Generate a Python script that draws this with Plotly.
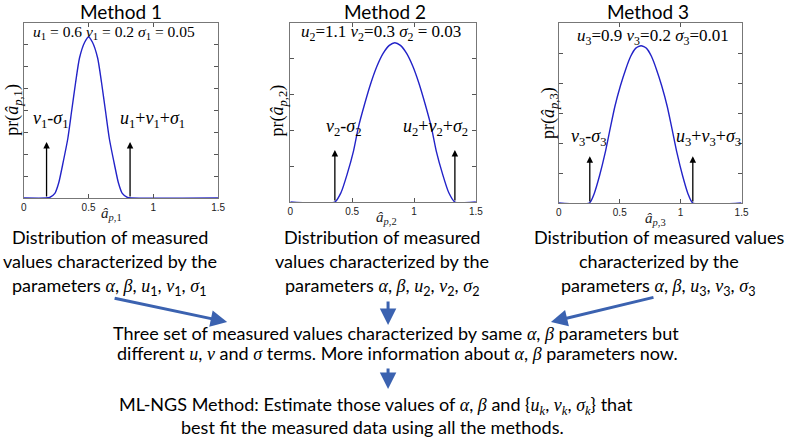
import plotly.graph_objects as go

W, H = 789, 438

# ---------------- data ----------------
methods = ["Method 1", "Method 2", "Method 3"]

x1 = [0, 0.17, 0.20, 0.24, 0.27, 0.30, 0.34, 0.37, 0.40, 0.43, 0.47, 0.50,
      0.53, 0.57, 0.60, 0.63, 0.66, 0.70, 0.73, 0.76, 0.80, 0.83, 1.5]
y1 = [0, 0, 0.003, 0.026, 0.087, 0.19, 0.34, 0.50, 0.66, 0.80, 0.89, 0.92,
      0.89, 0.80, 0.66, 0.50, 0.34, 0.19, 0.087, 0.026, 0.003, 0, 0]

x2 = [0, 0.36, 0.41, 0.46, 0.51, 0.55, 0.60, 0.65, 0.70, 0.75, 0.80, 0.845,
      0.89, 0.94, 0.99, 1.04, 1.09, 1.14, 1.18, 1.23, 1.28, 1.33, 1.5]
y2 = [0, 0, 0.053, 0.157, 0.283, 0.417, 0.546, 0.662, 0.758, 0.830, 0.875, 0.89,
      0.875, 0.830, 0.758, 0.662, 0.546, 0.417, 0.283, 0.157, 0.053, 0, 0]

x3 = [0, 0.25, 0.29, 0.335, 0.38, 0.42, 0.46, 0.505, 0.55, 0.59, 0.63, 0.675,
      0.72, 0.76, 0.80, 0.845, 0.89, 0.93, 0.97, 1.015, 1.06, 1.10, 1.5]
y3 = [0, 0, 0.052, 0.154, 0.278, 0.409, 0.536, 0.650, 0.745, 0.815, 0.859, 0.874,
      0.859, 0.815, 0.745, 0.650, 0.536, 0.409, 0.278, 0.154, 0.052, 0, 0]

u_vals = [0.6, 1.1, 0.9]
v_vals = [0.2, 0.3, 0.2]
sigma_vals = [0.05, 0.03, 0.01]

arrow_lo = [0.176, 0.36, 0.254]     # v_k - sigma_k markers
arrow_hi = [0.82, 1.33, 1.10]       # u_k + v_k + sigma_k markers
arrow_top = [0.32, 0.29, 0.26]

xtick_vals = [0, 0.5, 1, 1.5]
xtick_text = ["0", "0.5", "1", "1.5"]
ytick_step = [0.125, 0.2, 1 / 6]

xs = [x1, x2, x3]
ys = [y1, y2, y3]

# ---------------- layout helpers ----------------
def px(x):
    return x / W


def py(y):
    return 1 - y / H


SERIF = "Liberation Serif"
SANS = "Lato"
BLUE = "#3B62B0"

frames = [(21, 218, 23, 198), (291, 479, 23, 202), (563, 748, 23, 203)]
title_x = [120, 387, 653]
ytitle_pos = [(10, 110), (279, 110), (553, 113)]
xtitle_pos = [(110, 214), (388, 218), (661, 219)]
param_pos = [(112, 32), (383, 33), (658, 37)]
param_size = [15.5, 17, 17]
lo_lab_off = [(0.03, 0.05), (0.07, 0.05), (-0.01, 0.03)]
hi_lab_off = [(0.17, 0.05), (-0.16, 0.05), (0.13, 0.03)]

fig = go.Figure()
annotations = []
layout = {}

for i in range(3):
    k = i + 1
    sfx = "" if k == 1 else str(k)
    x0, x1p, yt, yb = frames[i]
    fig.add_trace(go.Scatter(
        x=xs[i], y=ys[i], mode="lines",
        line=dict(color="#2323C8", width=1.4, shape="spline", smoothing=0.6),
        xaxis="x" + sfx, yaxis="y" + sfx, showlegend=False, hoverinfo="skip"))
    layout["xaxis" + sfx] = dict(
        domain=[px(x0), px(x1p)], range=[0, 1.5], anchor="y" + sfx,
        tickvals=xtick_vals, ticktext=xtick_text, ticks="inside", ticklen=4,
        tickcolor="#555", showline=True, linecolor="#777", linewidth=1,
        mirror="ticks", showgrid=False, zeroline=False,
        tickfont=dict(family="Liberation Sans", size=10, color="#222"))
    layout["yaxis" + sfx] = dict(
        domain=[py(yb), py(yt)], range=[0, 1], anchor="x" + sfx,
        dtick=ytick_step[i], tick0=0, ticks="inside", ticklen=4, tickcolor="#555",
        showticklabels=False, showline=True, linecolor="#777", linewidth=1,
        mirror="ticks", showgrid=False, zeroline=False)

    # method title
    annotations.append(dict(
        x=px(title_x[i]), y=py(11), xref="paper", yref="paper",
        text=methods[i], showarrow=False, xanchor="center", yanchor="middle",
        font=dict(family=SANS, size=19, color="black")))

    # parameter text
    if k == 1:
        ptxt = (f"<i>u</i><sub>1</sub> = {u_vals[0]} <i>v</i><sub>1</sub> = {v_vals[0]} "
                f"<i>σ</i><sub>1</sub> = {sigma_vals[0]}")
    elif k == 2:
        ptxt = (f"<i>u</i><sub>2</sub>={u_vals[1]} <i>v</i><sub>2</sub>={v_vals[1]} "
                f"<i>σ</i><sub>2</sub> = {sigma_vals[1]}")
    else:
        ptxt = (f"<i>u</i><sub>3</sub>={u_vals[2]} <i>v</i><sub>3</sub>={v_vals[2]} "
                f"<i>σ</i><sub>3</sub>={sigma_vals[2]}")
    annotations.append(dict(
        x=px(param_pos[i][0]), y=py(param_pos[i][1]), xref="paper", yref="paper",
        text=ptxt, showarrow=False, xanchor="center", yanchor="middle",
        font=dict(family=SERIF, size=param_size[i], color="black")))

    # y title
    annotations.append(dict(
        x=px(ytitle_pos[i][0]), y=py(ytitle_pos[i][1]), xref="paper", yref="paper",
        text=f"pr(<i>â</i><sub><i>p</i>,{k}</sub>)", showarrow=False, textangle=-90,
        xanchor="center", yanchor="middle",
        font=dict(family=SERIF, size=18, color="black")))

    # x title
    annotations.append(dict(
        x=px(xtitle_pos[i][0]), y=py(xtitle_pos[i][1]), xref="paper", yref="paper",
        text=f"<i>â</i><sub><i>p</i>,{k}</sub>", showarrow=False,
        xanchor="center", yanchor="middle",
        font=dict(family=SERIF, size=15, color="#222")))

    # black marker arrows
    for xv in (arrow_lo[i], arrow_hi[i]):
        annotations.append(dict(
            x=xv, y=arrow_top[i], ax=xv, ay=0,
            xref="x" + sfx, yref="y" + sfx, axref="x" + sfx, ayref="y" + sfx,
            showarrow=True, arrowhead=2, arrowsize=1, arrowwidth=1.3,
            arrowcolor="black", text=""))

    annotations.append(dict(
        x=arrow_lo[i] + lo_lab_off[i][0], y=arrow_top[i] + lo_lab_off[i][1],
        xref="x" + sfx, yref="y" + sfx,
        text=f"<i>v</i><sub>{k}</sub>-<i>σ</i><sub>{k}</sub>", showarrow=False,
        xanchor="center", yanchor="bottom",
        font=dict(family=SERIF, size=18, color="black")))
    annotations.append(dict(
        x=arrow_hi[i] + hi_lab_off[i][0], y=arrow_top[i] + hi_lab_off[i][1],
        xref="x" + sfx, yref="y" + sfx,
        text=f"<i>u</i><sub>{k}</sub>+<i>v</i><sub>{k}</sub>+<i>σ</i><sub>{k}</sub>",
        showarrow=False, xanchor="center", yanchor="bottom",
        font=dict(family=SERIF, size=18, color="black")))

# ---------------- description text ----------------
def m(s):
    return f"<span style=\"font-family:'Liberation Serif'\"><i>{s}</i></span>"


def params_line(k):
    return (f"parameters {m('α')}, {m('β')}, {m('u')}<sub>{k}</sub>, "
            f"{m('v')}<sub>{k}</sub>, {m('σ')}<sub>{k}</sub>")


blocks = [
    (108, ["Distribution of measured", "values characterized by the", params_line(1)]),
    (384, ["Distribution of measured", "values characterized by the", params_line(2)]),
    (664, ["Distribution of measured values", "characterized by the", params_line(3)]),
]
line_y = [237, 261, 286]
for cx, lines in blocks:
    for ly, t in zip(line_y, lines):
        annotations.append(dict(
            x=px(cx), y=py(ly), xref="paper", yref="paper", text=t,
            showarrow=False, xanchor="center", yanchor="middle",
            font=dict(family=SANS, size=18, color="black")))

lower = [
    (398, 333, f"Three set of measured values characterized by same {m('α')}, {m('β')} parameters but"),
    (400, 353, f"different {m('u')}, {m('v')} and {m('σ')} terms. More information about {m('α')}, {m('β')} parameters now."),
    (378, 405, f"ML-NGS Method: Estimate those values of {m('α')}, {m('β')} and "
               f"{{{m('u')}<sub>{m('k')}</sub>, {m('v')}<sub>{m('k')}</sub>, {m('σ')}<sub>{m('k')}</sub>}} that"),
    (374, 427, "best fit the measured data using all the methods."),
]
for cx, ly, t in lower:
    annotations.append(dict(
        x=px(cx), y=py(ly), xref="paper", yref="paper", text=t,
        showarrow=False, xanchor="center", yanchor="middle",
        font=dict(family=SANS, size=18, color="black")))

# blue flow arrows (tail -> head in pixels)
flow = [((113, 298), (227, 322)), ((390, 300), (390, 325)),
        ((659, 297), (555, 322)), ((390, 367), (390, 389))]
for (tx, ty), (hx, hy) in flow:
    annotations.append(dict(
        x=px(hx), y=py(hy), xref="paper", yref="paper",
        ax=tx - hx, ay=ty - hy, axref="pixel", ayref="pixel",
        showarrow=True, arrowhead=2, arrowsize=1.1, arrowwidth=3,
        arrowcolor=BLUE, text=""))

fig.update_layout(
    width=W, height=H, margin=dict(l=0, r=0, t=0, b=0),
    paper_bgcolor="white", plot_bgcolor="white",
    annotations=annotations, showlegend=False, **layout)

fig.write_html(
    "out.html",
    config={"displayModeBar": False},
    post_script="document.body.style.margin='0';document.body.style.overflow='hidden';")
